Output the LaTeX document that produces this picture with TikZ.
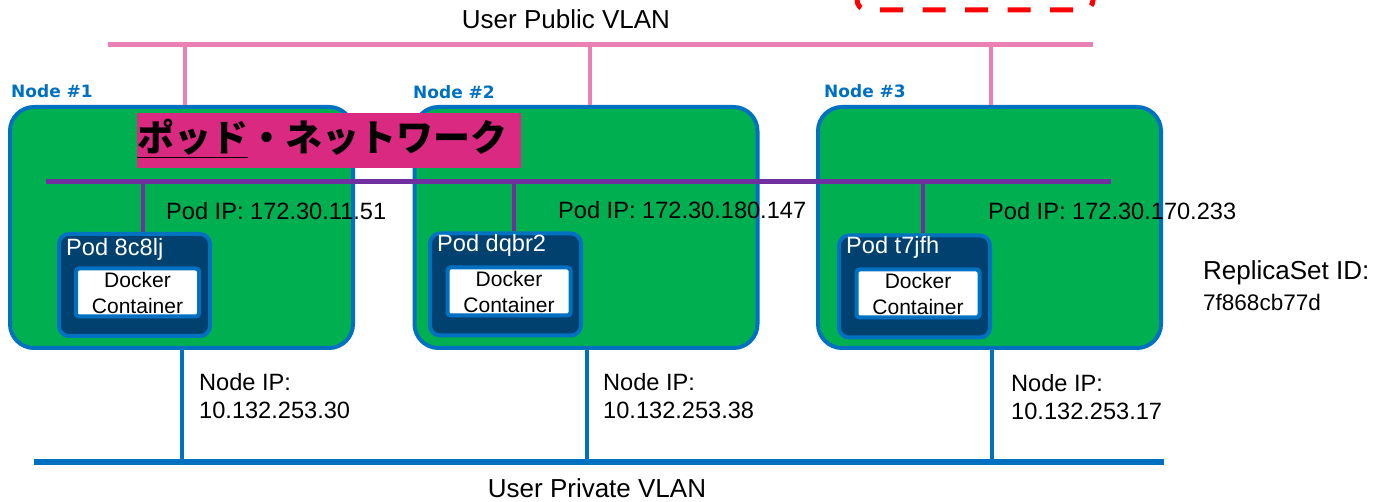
\documentclass[tikz,border=0pt]{standalone}
\usepackage{fontspec}
\usepackage{tikz}
\usetikzlibrary{positioning}

\setmainfont{Liberation Sans}
\newfontfamily\jpfont{Noto Sans CJK JP}
\newfontfamily\tagfont{DejaVu Sans}

\definecolor{hostgreen}{RGB}{0,176,80}
\definecolor{linkblue}{RGB}{0,112,192}
\definecolor{podnavy}{RGB}{0,65,112}
\definecolor{vlanpink}{RGB}{234,128,180}
\definecolor{netpurple}{RGB}{112,48,160}
\definecolor{titlepink}{RGB}{218,41,128}

\tikzset{
	host/.style		={draw=linkblue, line width=4, fill=hostgreen, rounded corners=24,
					  minimum width=343, minimum height=241, inner sep=0},
	pod/.style		={draw=linkblue, line width=4, fill=podnavy, rounded corners=10,
					  minimum width=151, minimum height=102, inner sep=0},
	ctr/.style		={draw=linkblue, line width=4, fill=white, rounded corners=3,
					  minimum width=123, minimum height=48, inner sep=0, align=center,
					  font=\fontsize{21}{26}\selectfont},
	hosttag/.style	={anchor=west, inner sep=0, text=linkblue,
					  font=\tagfont\bfseries\fontsize{17}{20}\selectfont},
	podname/.style	={anchor=west, inner sep=0, text=white, font=\fontsize{23.6}{28}\selectfont},
	ip/.style		={anchor=west, inner sep=0, align=left, font=\fontsize{23.6}{28}\selectfont},
	vlan/.style		={inner sep=0, font=\fontsize{26}{30}\selectfont},
	publine/.style	={draw=vlanpink, line width=5},
	pubdrop/.style	={draw=vlanpink, line width=4},
	prvline/.style	={draw=linkblue, line width=5.5},
	prvdrop/.style	={draw=linkblue, line width=4},
	podnet/.style	={draw=netpurple, line width=5},
	poddrop/.style	={draw=netpurple, line width=4.5},
	marker/.style	={draw=red, line width=5, rounded corners=10,
					  dash pattern=on 23 off 19.5, dash phase=31.3},
}

\begin{document}
\begin{tikzpicture}[x=1pt, y=-1pt]
	\useasboundingbox (0,0) rectangle (1382,502);

	\draw[marker] (857,-25) |- (1093,10) -- (1093,-25);

	% VLAN ends and taps
	\coordinate (pubL) at (108,44.5);
	\coordinate (pubR) at (1093,44.5);
	\coordinate (pubA) at (185,44.5);
	\coordinate (pubB) at (590,44.5);
	\coordinate (pubC) at (991,44.5);
	\coordinate (prvL) at (34,462);
	\coordinate (prvR) at (1164,462);
	\coordinate (prvA) at (182,462);
	\coordinate (prvB) at (587,462);
	\coordinate (prvC) at (992,462);
	\coordinate (netL) at (46,181.5);
	\coordinate (netR) at (1111,181.5);
	\coordinate (netA) at (143,181.5);
	\coordinate (netB) at (514,181.5);
	\coordinate (netC) at (923,181.5);

	\node[vlan]				(pub)	at (566,19)		{User Public VLAN};
	\node[vlan]				(prv)	at (597,488.5)	{User Private VLAN};

	\node[host]				(n1)	at (181.5,227.5)	{};
	\node[host]				(n2)	at (586,227.5)		{};
	\node[host]				(n3)	at (989.5,227.5)	{};

	\path[publine] (pubL) -- (pubR);
	\path[pubdrop]
		(pubA) -- (pubA |- n1.north)
		(pubB) -- (pubB |- n2.north)
		(pubC) -- (pubC |- n3.north);

	\path[prvline] (prvL) -- (prvR);
	\path[prvdrop]
		(n1.south -| prvA) -- (prvA)
		(n2.south -| prvB) -- (prvB)
		(n3.south -| prvC) -- (prvC);

	\node[hosttag]			(t1)	at (11,91)		{Node \#1};
	\node[hosttag]			(t2)	at (413,92)		{Node \#2};
	\node[hosttag]			(t3)	at (824,91)		{Node \#3};

	\node[fill=titlepink, inner sep=0, anchor=north west,
		  minimum width=384, minimum height=55]	(pn)	at (137,113)	{};
	\node[anchor=base west, inner sep=0,
		  font=\jpfont\bfseries\fontsize{37}{40}\selectfont]
										(pnt)	at (137,151.5)	{\underline{ポッド}・ネットワーク};

	\node[pod]				(p1)	at (134.5,285)		{};
	\node[pod]				(p2)	at (505.5,284.5)	{};
	\node[pod]				(p3)	at (914.5,286.5)	{};

	\path[podnet] (netL) -- (netR);
	\path[poddrop]
		(netA) -- (netA |- p1.north)
		(netB) -- (netB |- p2.north)
		(netC) -- (netC |- p3.north);

	\node[podname]			(pn1)	at (66,249)		{Pod 8c8lj};
	\node[podname]			(pn2)	at (437,245)	{Pod dqbr2};
	\node[podname]			(pn3)	at (846,247)	{Pod t7jfh};

	\node[ctr]				(c1)	at (137.5,292.5)	{Docker\\Container};
	\node[ctr]				(c2)	at (509,291.5)		{Docker\\Container};
	\node[ctr]				(c3)	at (918,293.5)		{Docker\\Container};

	\node[ip]				(ip1)	at (166,211)	{Pod IP: 172.30.11.51};
	\node[ip]				(ip2)	at (558,210)	{Pod IP: 172.30.180.147};
	\node[ip]				(ip3)	at (988,211)	{Pod IP: 172.30.170.233};

	\node[ip]				(nip1)	at (199,396)	{Node IP:\\10.132.253.30};
	\node[ip]				(nip2)	at (603,396)	{Node IP:\\10.132.253.38};
	\node[ip]				(nip3)	at (1011,397)	{Node IP:\\10.132.253.17};

	\node[anchor=west, inner sep=0, font=\fontsize{26}{30}\selectfont]
										(rs)	at (1203,273)	{ReplicaSet ID:};
	\node[below=8.5pt of rs.south west, anchor=north west, inner sep=0,
		  font=\fontsize{22.5}{26}\selectfont]	(rsid)	{7f868cb77d};
\end{tikzpicture}
\end{document}
